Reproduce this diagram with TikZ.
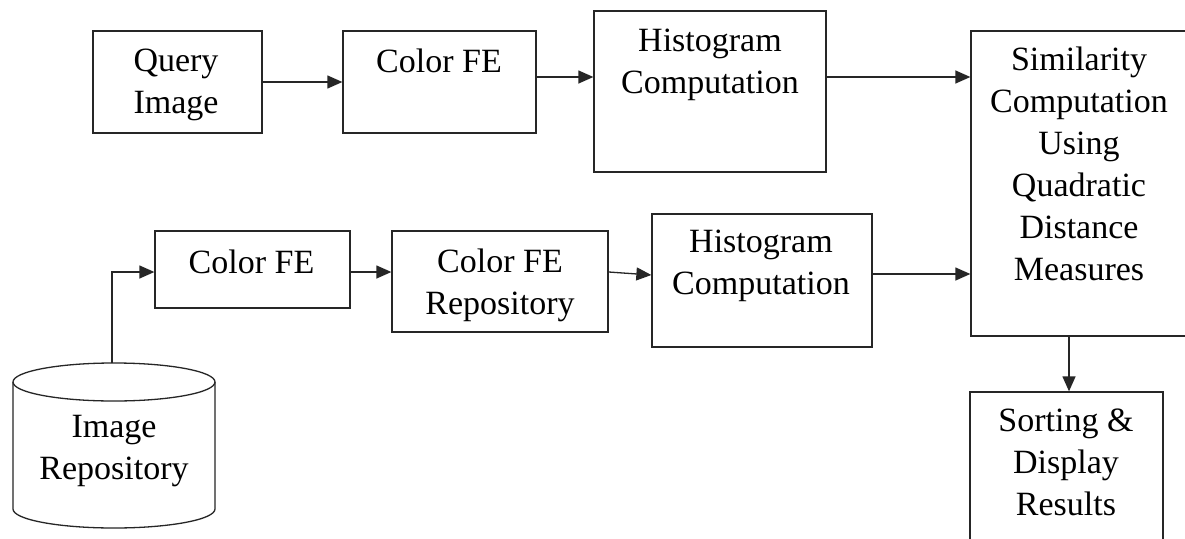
\documentclass[tikz,border=0pt]{standalone}
\usepackage{fontspec}
\setmainfont{Liberation Serif}
\usetikzlibrary{arrows.meta}
\definecolor{ln}{HTML}{262626}
\tikzset{
  box/.style={draw=ln, line width=1.3pt, inner sep=0pt, rectangle},
  lbl/.style={align=center, inner sep=0pt, font=\fontsize{34}{42}\selectfont, text=black},
  arr/.style={draw=ln, line width=1.3pt, -{Triangle[length=15pt,width=13pt]}}
}
\begin{document}
\begin{tikzpicture}[x=1pt,y=-1pt]
\useasboundingbox (0,0) rectangle (1185,538);
\clip (0,0) rectangle (1185,538);
\fill[white] (0,0) rectangle (1185,538);
% boxes
\node[box, minimum width=169pt, minimum height=102pt] (qimg) at (177.5,82) {};
\node[box, minimum width=193pt, minimum height=102pt] (cfe1) at (439.5,82) {};
\node[box, minimum width=232pt, minimum height=161pt] (hist1) at (710,91.5) {};
\node[box, minimum width=230pt, minimum height=305pt] (sim) at (1086,183.5) {};
\node[box, minimum width=195pt, minimum height=77pt] (cfe2) at (252.5,269.5) {};
\node[box, minimum width=216pt, minimum height=101pt] (cfer) at (500,281.5) {};
\node[box, minimum width=220pt, minimum height=133pt] (hist2) at (762,280.5) {};
\node[box, minimum width=193pt, minimum height=160pt] (sort) at (1066.5,472) {};
% cylinder
\draw[ln, line width=1.3pt] (13,382) -- (13,509) arc[start angle=180, end angle=0, x radius=101, y radius=19] -- (215,382);
\draw[ln, line width=1.3pt] (114,382) ellipse [x radius=101, y radius=19];
\coordinate (repotop) at (112,363);
% texts
\node[lbl] at (176,84.1) {\strut Query\\\strut Image};
\node[lbl] at (439,63.6) {\strut Color FE};
\node[lbl] at (710,63.6) {\strut Histogram\\\strut Computation};
\node[lbl] at (1079,166.6) {\strut Similarity\\\strut Computation\\\strut Using\\\strut Quadratic\\\strut Distance\\\strut Measures};
\node[lbl] at (251.5,264.6) {\strut Color FE};
\node[lbl] at (500,285.1) {\strut Color FE\\\strut Repository};
\node[lbl] at (761,264.6) {\strut Histogram\\\strut Computation};
\node[lbl] at (1066,464.6) {\strut Sorting \&\\\strut Display\\\strut Results};
\node[lbl] at (114,450) {\strut Image\\\strut Repository};
% connectors
\draw[arr] (qimg.east) -- (cfe1.west);
\draw[arr] (cfe1.east |- 0,77) -- (hist1.west |- 0,77);
\draw[arr] (hist1.east |- 0,77) -- (sim.west |- 0,77);
\draw[arr] (repotop) |- (cfe2.west |- 0,272);
\draw[arr] (cfe2.east |- 0,272) -- (cfer.west |- 0,272);
\draw[arr] (cfer.east |- 0,272) -- (hist2.west |- 0,275);
\draw[arr] (hist2.east |- 0,274) -- (sim.west |- 0,274);
\draw[arr] (sim.south -| 1069,0) -- (sort.north -| 1069,0);
\end{tikzpicture}
\end{document}
